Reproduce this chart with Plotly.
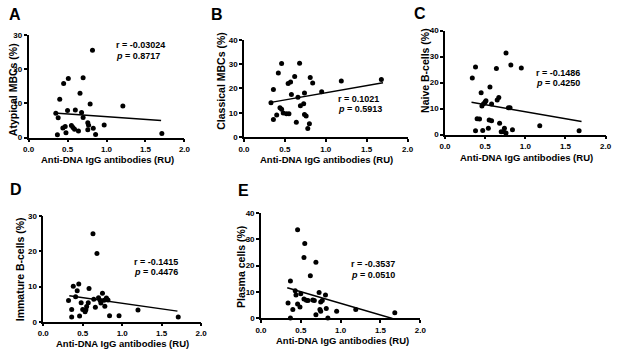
import plotly.graph_objects as go

# ---------------- data ----------------
a_x = [0.82, 0.51, 0.45, 0.70, 0.66, 0.40, 0.79, 1.21, 0.50, 0.60, 0.35, 0.68, 0.38, 0.70, 0.76,
       0.77, 0.76, 0.97, 0.47, 0.44, 0.55, 0.57, 0.59, 0.64, 0.83, 0.48, 0.37, 0.86, 1.71]
a_y = [25.6, 17.3, 15.8, 17.5, 13.0, 11.2, 9.8, 9.2, 7.9, 8.1, 7.1, 7.3, 5.8, 5.9, 4.3,
       3.6, 2.3, 3.7, 3.2, 2.8, 3.5, 2.9, 2.4, 1.9, 2.7, 1.4, 0.8, 0.9, 1.2]
a_fit_x = [0.33, 1.70]
a_fit_y = [7.2, 5.0]

b_x = [0.46, 0.68, 0.42, 0.62, 0.81, 1.68, 1.19, 0.84, 0.57, 0.54, 0.36, 0.95, 0.58, 0.74, 0.66,
       0.33, 0.73, 0.69, 0.44, 0.46, 0.48, 0.52, 0.55, 0.74, 0.76, 0.40, 0.36, 0.64, 0.80, 0.78]
b_y = [30.3, 30.4, 26.4, 24.9, 24.5, 23.7, 23.1, 22.3, 22.7, 22.0, 19.6, 18.7, 17.5, 18.1, 16.4,
       14.1, 13.7, 12.9, 12.1, 11.5, 9.9, 9.6, 9.6, 9.3, 8.7, 9.1, 7.3, 6.1, 5.5, 3.6]
b_fit_x = [0.33, 1.70]
b_fit_y = [14.3, 22.4]

c_x = [0.76, 0.38, 0.82, 0.95, 0.64, 0.34, 0.56, 0.45, 0.67, 0.65, 0.51, 0.50, 0.48, 0.58, 0.46, 0.79,
       0.81, 0.40, 0.43, 0.55, 0.58, 0.68, 1.18, 0.74, 0.54, 0.84, 0.47, 0.38, 0.70, 0.73, 0.76, 1.67]
c_y = [31.4, 26.0, 26.8, 25.6, 25.4, 21.8, 18.3, 16.1, 14.3, 13.3, 13.0, 12.5, 11.9, 11.8, 11.0, 10.3,
       10.3, 6.1, 6.0, 5.6, 5.3, 4.4, 3.4, 2.4, 2.4, 1.9, 1.6, 1.5, 1.1, 1.1, 0.6, 1.5]
c_fit_x = [0.33, 1.70]
c_fit_y = [12.4, 5.0]

d_x = [0.63, 0.68, 0.45, 0.38, 0.58, 0.43, 0.75, 0.41, 0.70, 0.80, 0.64, 0.72, 0.77, 0.82, 0.32, 0.48,
       0.57, 0.73, 0.78, 0.55, 0.66, 0.36, 0.50, 0.54, 0.53, 1.20, 0.46, 0.84, 0.96, 0.36, 1.71]
d_y = [25.0, 19.4, 10.7, 10.1, 9.4, 8.8, 8.1, 7.1, 6.8, 6.7, 6.4, 6.1, 6.1, 6.2, 6.0, 5.4,
       5.4, 5.3, 4.4, 4.3, 4.1, 3.5, 3.5, 3.4, 2.8, 3.3, 1.6, 1.7, 1.7, 1.3, 1.3]
d_fit_x = [0.33, 1.70]
d_fit_y = [7.4, 3.0]

e_x = [0.46, 0.55, 0.54, 0.69, 0.62, 0.37, 0.73, 0.50, 0.43, 0.44, 0.81, 0.54, 0.57, 0.59, 0.65, 0.67,
       0.77, 0.75, 0.34, 0.46, 0.49, 0.82, 0.74, 0.40, 0.75, 0.95, 1.19, 0.69, 1.68, 0.37, 0.84]
e_y = [33.6, 28.4, 23.1, 21.3, 16.2, 14.2, 9.8, 9.4, 10.5, 8.9, 8.9, 7.4, 6.9, 6.8, 7.0, 6.8,
       6.8, 6.2, 5.9, 5.5, 4.3, 3.8, 3.4, 3.4, 2.7, 2.7, 3.4, 1.4, 2.2, 0.2, 0.2]
e_fit_x = [0.33, 1.65]
e_fit_y = [11.6, 0.0]

panel_letters = ["A", "B", "C", "D", "E"]
y_titles = ["Atypical MBCs (%)", "Classical MBCs (%)", "Naive B-cells (%)",
            "Immature B-cells (%)", "Plasma cells (%)"]
x_title = "Anti-DNA IgG antibodies (RU)"
r_texts = ["-0.03024", "0.1021", "-0.1486", "-0.1415", "-0.3537"]
p_texts = ["0.8717", "0.5913", "0.4250", "0.4476", "0.0510"]
y_max = [30, 40, 40, 30, 40]
x_ticks = [0.0, 0.5, 1.0, 1.5, 2.0]

# ---------------- layout geometry (pixels) ----------------
W, H = 617, 353
# (x0px, x2px, y0px, ytop px)
geom = [(23, 182, 137, 32), (242.7, 409.5, 136.7, 36.7), (447.7, 611.5, 134, 27.3),
        (38, 199, 326, 217.7), (260, 422.5, 322.7, 214.3)]
ann_pos = [(1.09, 27.0, 23.8), (1.13, 15.5, 11.4), (1.11, 23.6, 19.9),
           (1.13, 17.0, 14.2), (1.11, 20.6, 16.5)]
letter_pos = [(9, 11), (215, 11), (422, 10), (10.5, 190), (242, 191)]
xtitle_pos = [(104, 160), (326.5, 159.5), (531, 158), (119, 348), (343, 345.5)]
ytitle_pos = [(7, 87.5), (219, 79), (428, 68), (14, 272.5), (239, 269.5)]

FONT = "Liberation Sans, Arial, sans-serif"
xs = [a_x, b_x, c_x, d_x, e_x]
ys = [a_y, b_y, c_y, d_y, e_y]
fxs = [a_fit_x, b_fit_x, c_fit_x, d_fit_x, e_fit_x]
fys = [a_fit_y, b_fit_y, c_fit_y, d_fit_y, e_fit_y]

fig = go.Figure()
layout = dict(width=W, height=H, margin=dict(l=0, r=0, t=0, b=0),
              paper_bgcolor="white", plot_bgcolor="white", showlegend=False,
              font=dict(family=FONT, color="black"))
annotations = []
for i in range(5):
    n = "" if i == 0 else str(i + 1)
    xa, ya = "x" + n, "y" + n
    x0, x2, y0, yt = geom[i]
    axis_common = dict(showline=True, linecolor="black", linewidth=1.5, ticks="outside",
                       ticklen=3, tickwidth=1.5, tickcolor="black", showgrid=False,
                       zeroline=False, tickfont=dict(size=8, family=FONT, weight="bold"))
    layout["xaxis" + n] = dict(axis_common, domain=[x0 / W, x2 / W], range=[0, 2], anchor=ya,
                               tickvals=x_ticks, ticktext=[f"{v:.1f}" for v in x_ticks])
    layout["yaxis" + n] = dict(axis_common, domain=[1 - y0 / H, 1 - yt / H], range=[0, y_max[i]],
                               anchor=xa, dtick=10)
    fig.add_trace(go.Scatter(x=xs[i], y=ys[i], mode="markers", xaxis=xa, yaxis=ya,
                             marker=dict(color="black", size=5), cliponaxis=False))
    fig.add_trace(go.Scatter(x=fxs[i], y=fys[i], mode="lines", xaxis=xa, yaxis=ya,
                             line=dict(color="black", width=1.5)))
    ax, ry, py = ann_pos[i]
    annotations.append(dict(x=ax, y=ry, xref=xa, yref=ya, xanchor="left", yanchor="middle",
                            text="<b>r = " + r_texts[i] + "</b>", showarrow=False,
                            font=dict(size=9, family=FONT)))
    annotations.append(dict(x=ax, y=py, xref=xa, yref=ya, xanchor="left", yanchor="middle",
                            text="<b><i>p</i> = " + p_texts[i] + "</b>", showarrow=False,
                            font=dict(size=9, family=FONT)))
    tx, ty = xtitle_pos[i]
    annotations.append(dict(x=tx / W, y=1 - ty / H, xref="paper", yref="paper",
                            xanchor="center", yanchor="middle", text="<b>" + x_title + "</b>",
                            showarrow=False, font=dict(size=9.5, family=FONT)))
    vx, vy = ytitle_pos[i]
    annotations.append(dict(x=vx / W, y=1 - vy / H, xref="paper", yref="paper",
                            xanchor="center", yanchor="middle", text="<b>" + y_titles[i] + "</b>",
                            textangle=-90, showarrow=False, font=dict(size=10.5, family=FONT)))
    lx, ly = letter_pos[i]
    annotations.append(dict(x=lx / W, y=1 - ly / H, xref="paper", yref="paper",
                            xanchor="center", yanchor="middle", text="<b>" + panel_letters[i] + "</b>",
                            showarrow=False, font=dict(size=16, family=FONT)))
layout["annotations"] = annotations
fig.update_layout(**layout)
fig.write_html("out.html", config={"displayModeBar": False},
               post_script=("document.documentElement.style.margin='0';"
                            "document.documentElement.style.overflow='hidden';"
                            "document.body.style.margin='0';document.body.style.padding='0';"
                            "document.body.style.overflow='hidden';"))
